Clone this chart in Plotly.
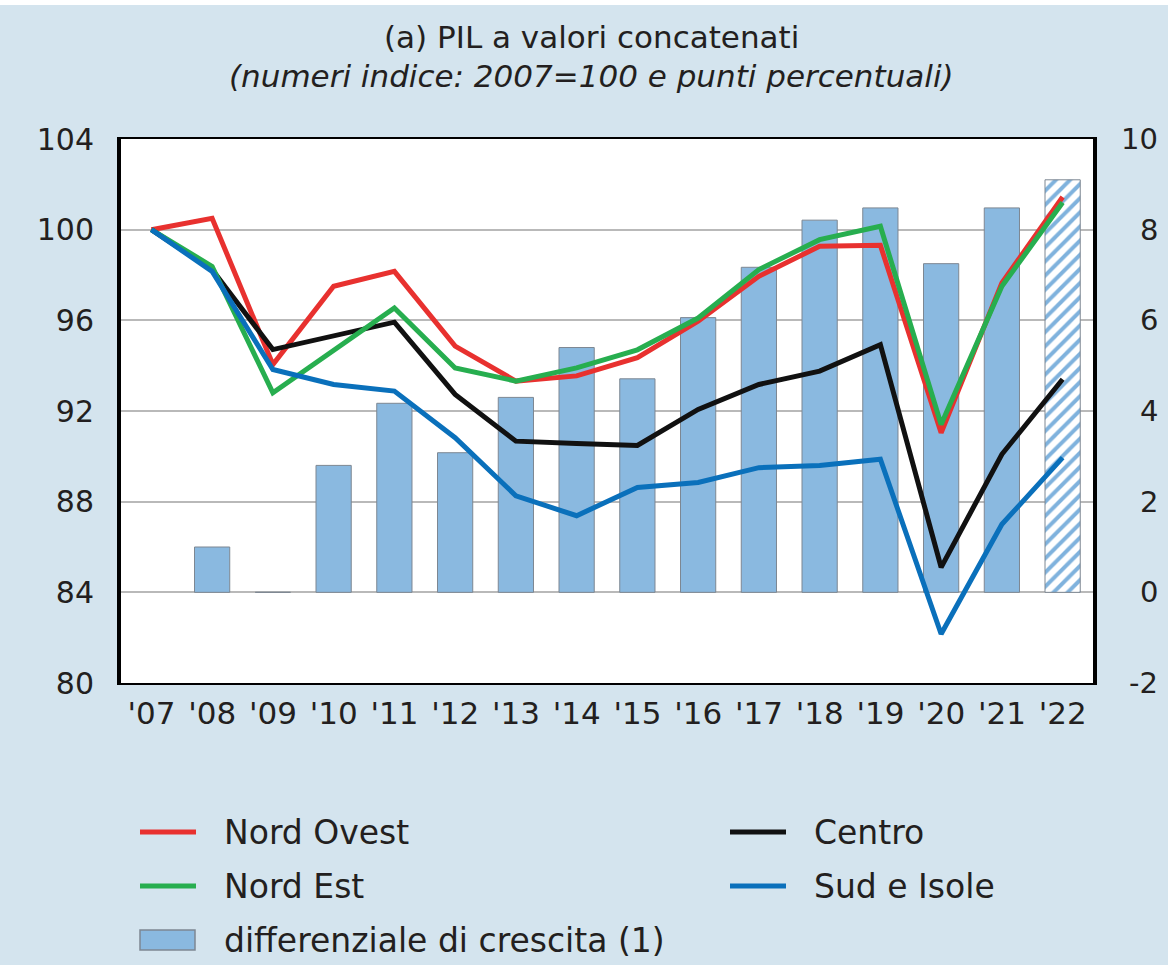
import plotly.graph_objects as go

# Years and tick labels
years = ["'07", "'08", "'09", "'10", "'11", "'12", "'13", "'14", "'15",
         "'16", "'17", "'18", "'19", "'20", "'21", "'22"]

# GDP index by macro-area (2007 = 100)
nord_ovest = [100.0, 100.5, 94.05, 97.5, 98.16, 94.86, 93.32, 93.55, 94.35,
              95.96, 97.94, 99.27, 99.31, 91.04, 97.65, 101.44]
nord_est = [100.0, 98.38, 92.8, 94.67, 96.55, 93.9, 93.32, 93.9, 94.7,
            96.1, 98.24, 99.56, 100.15, 91.4, 97.5, 101.2]
centro = [100.0, 98.24, 94.71, 95.33, 95.92, 92.73, 90.67, 90.57, 90.48,
          92.07, 93.17, 93.76, 94.93, 85.1, 90.09, 93.4]
sud_isole = [100.0, 98.16, 93.83, 93.17, 92.88, 90.82, 88.26, 87.38, 88.63,
             88.85, 89.5, 89.6, 89.87, 82.16, 87.0, 89.94]

# Growth differential (percentage points), last year is an estimate (hatched)
differenziale = [None, 1.0, 0.0, 2.8, 4.17, 3.08, 4.3, 5.4, 4.71,
                 6.06, 7.17, 8.21, 8.48, 7.25, 8.48, 9.1]

left_ticks = [80, 84, 88, 92, 96, 100, 104]
right_ticks = [-2, 0, 2, 4, 6, 8, 10]

title_1 = "(a) PIL a valori concatenati"
title_2 = "(numeri indice: 2007=100 e punti percentuali)"

FONT = "DejaVu Sans"
TXT = "#231f20"
BG = "#d4e4ee"
BAR = "#8ab9e0"
BAR_EDGE = "#7d8792"

W, H = 1168, 965
L, R, T, B = 121, 75, 139, 282
PW, PH = W - L - R, H - T - B


def px(xp):
    return (xp - L) / PW


def py(yp):
    return (H - B - yp) / PH


fig = go.Figure()

# Bars on the primary (right-hand) axis: observed years solid, last year hatched
n = len(years)
fig.add_trace(go.Bar(
    x=years[:-1], y=differenziale[:-1], yaxis="y", width=0.58,
    marker=dict(color=BAR, line=dict(color=BAR_EDGE, width=1)),
    showlegend=False, hoverinfo="skip",
))
fig.add_trace(go.Bar(
    x=years[-1:], y=differenziale[-1:], yaxis="y", width=0.58,
    marker=dict(
        color="white", line=dict(color=BAR_EDGE, width=1),
        pattern=dict(shape="/", fgcolor="#7fb2dd", bgcolor="white",
                     fgopacity=1, fillmode="replace", size=10, solidity=0.4),
    ),
    showlegend=False, hoverinfo="skip",
))

series = [
    (nord_ovest, "#e8312f"),
    (centro, "#111111"),
    (nord_est, "#27ae4f"),
    (sud_isole, "#0a70bb"),
]
for vals, col in series:
    fig.add_trace(go.Scatter(
        x=years, y=vals, yaxis="y2", mode="lines",
        line=dict(color=col, width=5),
        showlegend=False,
    ))

annotations = [
    dict(text=title_1, x=px(591), y=py(37), xref="paper", yref="paper",
         xanchor="center", yanchor="middle", showarrow=False,
         font=dict(family=FONT, size=31, color=TXT)),
    dict(text="<i>" + title_2 + "</i>", x=px(591), y=py(76), xref="paper",
         yref="paper", xanchor="center", yanchor="middle", showarrow=False,
         font=dict(family=FONT, size=31, color=TXT)),
]

# Right-hand axis labels, right aligned
for v in right_ticks:
    annotations.append(dict(
        text=str(v), x=px(1160), y=v, xref="paper", yref="y",
        xanchor="right", yanchor="middle", showarrow=False,
        font=dict(family=FONT, size=29, color=TXT)))

# Legend
legend_items = [
    ("line", "#e8312f", "Nord Ovest", 140, 832),
    ("line", "#111111", "Centro", 730, 832),
    ("line", "#27ae4f", "Nord Est", 140, 886),
    ("line", "#0a70bb", "Sud e Isole", 730, 886),
    ("box", BAR, "differenziale di crescita (1)", 140, 940),
]
shapes = [
    dict(type="rect", xref="paper", yref="paper", x0=px(0), x1=px(W),
         y0=py(5), y1=py(0), fillcolor="white", line_width=0, layer="below"),
]
for kind, col, label, x0, yc in legend_items:
    if kind == "line":
        shapes.append(dict(type="line", xref="paper", yref="paper",
                           x0=px(x0), x1=px(x0 + 56), y0=py(yc), y1=py(yc),
                           line=dict(color=col, width=5)))
    else:
        shapes.append(dict(type="rect", xref="paper", yref="paper",
                           x0=px(x0), x1=px(x0 + 55), y0=py(yc + 10),
                           y1=py(yc - 10), fillcolor=col,
                           line=dict(color=BAR_EDGE, width=1.5)))
    annotations.append(dict(
        text=label, x=px(x0 + 82), y=py(yc), xref="paper", yref="paper",
        xanchor="left", yanchor="middle", showarrow=False,
        font=dict(family=FONT, size=33, color=TXT)))

fig.update_layout(
    width=W, height=H,
    margin=dict(l=L, r=R, t=T, b=B, pad=0),
    paper_bgcolor=BG, plot_bgcolor="white",
    font=dict(family=FONT, size=30, color=TXT),
    barmode="overlay",
    xaxis=dict(
        type="category", range=[-0.5, n - 0.5], categoryorder="array",
        categoryarray=years,
        showgrid=False, showline=True, linecolor="black", linewidth=2,
        mirror=True, ticks="", ticklabelstandoff=2,
        tickfont=dict(family=FONT, size=31, color=TXT),
    ),
    yaxis=dict(
        side="right", range=[-2, 10], tickvals=right_ticks,
        showticklabels=False, showgrid=True, gridcolor="#b9b9b9",
        gridwidth=1.5, zeroline=False,
        showline=True, linecolor="black", linewidth=3.5, mirror=True,
        ticks="",
    ),
    yaxis2=dict(
        side="left", overlaying="y", range=[80, 104], tickvals=left_ticks,
        showgrid=False, zeroline=False, ticks="", ticklabelstandoff=26,
        tickfont=dict(family=FONT, size=30, color=TXT),
    ),
    annotations=annotations,
    shapes=shapes,
)

fig.write_html("out.html")
